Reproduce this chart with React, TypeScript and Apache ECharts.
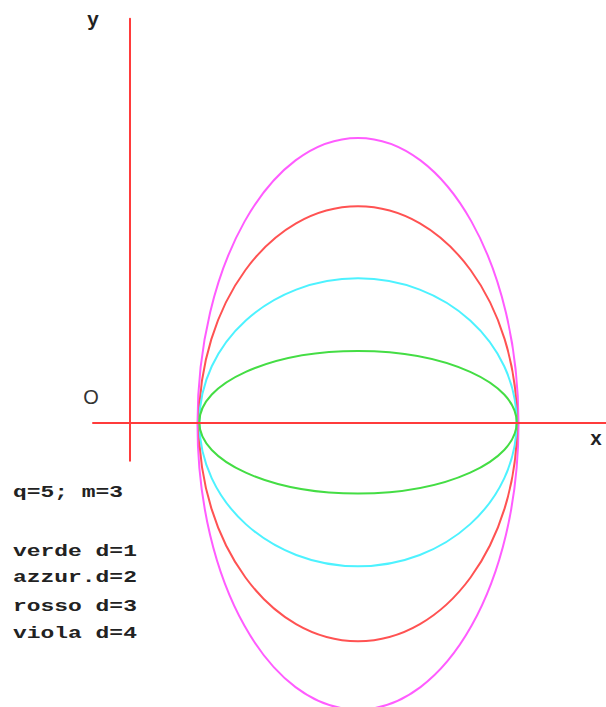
import React, { useEffect, useRef } from "react";
import * as echarts from "echarts";

// Ellipse data (x in units of q, y in units of d)
const curveNames = ["viola d=4", "rosso d=3", "azzur.d=2", "verde d=1"];
const curveColors = ["#ff5cff", "#ff5252", "#4df2ff", "#44dd44"];
const centerX = [5, 5, 5, 5];
const centerY = [-0.02, -0.02, 0, 0];
const semiX = [3.52, 3.49, 3.48, 3.48];
const semiY = [3.97, 3.02, 2.0, 0.99];

const infoLines = ["q=5; m=3", "", "verde d=1", "azzur.d=2", "rosso d=3", "viola d=4"];
const infoBaselines = [498, 0, 557, 583, 612, 639];

const X_MIN = -37 / 45.6;
const X_MAX = 476 / 45.6;
const Y_MIN = -38.4 / 72;
const Y_MAX = 403.6 / 72;

export default function App() {
  const ref = useRef<HTMLDivElement>(null);
  useEffect(() => {
    if (!ref.current) return;
    const chart = echarts.init(ref.current, null, { renderer: "svg" });
    const series: any[] = curveNames.map((name, i) => ({
      type: "custom",
      name,
      coordinateSystem: "cartesian2d",
      clip: false,
      silent: true,
      z: 1,
      data: [[centerX[i], centerY[i], semiX[i], semiY[i]]],
      renderItem: (params: any, api: any) => {
        const c = api.coord([api.value(0), api.value(1)]);
        const rx = api.size([api.value(2), 0])[0];
        const ry = api.size([0, api.value(3)])[1];
        return {
          type: "ellipse",
          shape: { cx: c[0], cy: c[1], rx, ry },
          style: { fill: "transparent", stroke: curveColors[i], lineWidth: 2 },
        };
      },
    }));

    const graphics: any[] = [];
    infoLines.forEach((t, i) => {
      if (!t) return;
      graphics.push({
        type: "text",
        x: 13,
        y: infoBaselines[i] - 5.5,
        scaleX: 1.35,
        style: {
          text: t,
          font: `bold 17px "Liberation Mono", monospace`,
          fill: "#222",
          textAlign: "left",
          textVerticalAlign: "middle",
        },
      });
    });
    graphics.push({
      type: "text",
      x: 91,
      y: 397,
      style: {
        text: "O",
        font: `20px "Liberation Sans", sans-serif`,
        fill: "#333",
        textAlign: "center",
        textVerticalAlign: "middle",
      },
    });
    graphics.push({
      type: "text",
      x: 93,
      y: 20,
      style: {
        text: "y",
        font: `bold 20px "Liberation Mono", monospace`,
        fill: "#222",
        textAlign: "center",
        textVerticalAlign: "middle",
      },
    });
    graphics.push({
      type: "text",
      x: 596,
      y: 439,
      style: {
        text: "x",
        font: `bold 20px "Liberation Mono", monospace`,
        fill: "#222",
        textAlign: "center",
        textVerticalAlign: "middle",
      },
    });

    chart.setOption({
      animation: false,
      backgroundColor: "#ffffff",
      grid: { left: 93, top: 18.7, width: 513, height: 442 },
      xAxis: {
        type: "value",
        min: X_MIN,
        max: X_MAX,
        z: 5,
        axisLine: { onZero: true, lineStyle: { color: "#ff3b3b", width: 2 } },
        axisTick: { show: false },
        axisLabel: { show: false },
        splitLine: { show: false },
      },
      yAxis: {
        type: "value",
        min: Y_MIN,
        max: Y_MAX,
        z: 5,
        axisLine: { onZero: true, lineStyle: { color: "#ff3b3b", width: 2 } },
        axisTick: { show: false },
        axisLabel: { show: false },
        splitLine: { show: false },
      },
      series,
      graphic: graphics,
    });
    return () => chart.dispose();
  }, []);
  return (
    <div
      ref={ref}
      style={{ position: "fixed", left: 0, top: 0, width: 606, height: 707 }}
    />
  );
}
